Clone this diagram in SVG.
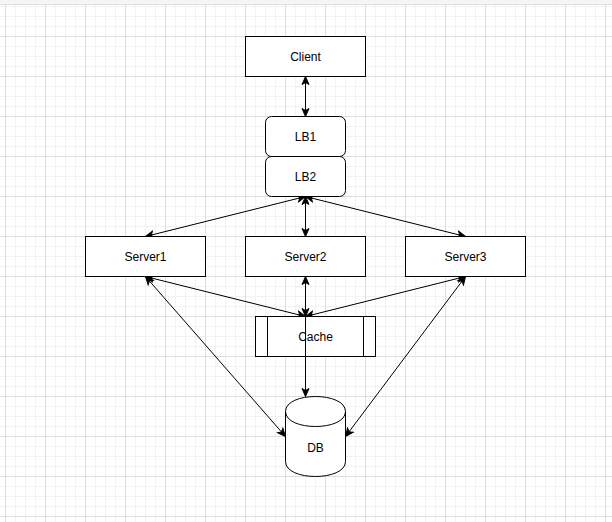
<svg xmlns="http://www.w3.org/2000/svg" width="612" height="522" viewBox="0 0 612 522">
<style>
.n{fill:#fff;stroke:#000;stroke-width:1}
.t{font-family:"Liberation Sans",Arial,Helvetica,sans-serif;font-size:12px;fill:#000;text-anchor:middle}
.e{fill:none;stroke:#000;stroke-width:1}
</style>
<defs>
<pattern id="grid" patternUnits="userSpaceOnUse" x="5" y="-4" width="40" height="40">
<rect x="0" y="0" width="40" height="40" fill="#fff"/>
<g fill="#f2f2f2">
<rect x="10" y="0" width="1" height="40"/><rect x="20" y="0" width="1" height="40"/><rect x="30" y="0" width="1" height="40"/>
<rect x="0" y="10" width="40" height="1"/><rect x="0" y="20" width="40" height="1"/><rect x="0" y="30" width="40" height="1"/>
</g>
<g fill="#dedede">
<rect x="0" y="0" width="1" height="40"/><rect x="0" y="0" width="40" height="1"/>
</g>
</pattern>
<marker id="arr" viewBox="-9 -5 10 10" markerWidth="10" markerHeight="10" refX="0" refY="0" orient="auto-start-reverse" markerUnits="userSpaceOnUse">
<path d="M-8,-3.5 L0,0 L-8,3.5 L-6,0 Z" fill="#000" stroke="#000" stroke-width="1" stroke-linejoin="miter"/>
</marker>
</defs>
<rect x="0" y="0" width="612" height="522" fill="url(#grid)"/>
<rect x="0" y="0" width="612" height="4" fill="#f5f5f5"/>
<rect x="0" y="4" width="612" height="1" fill="#dedede"/>

<g id="connectors">
<line class="e" x1="305.5" y1="76.5" x2="305.5" y2="116.5" marker-start="url(#arr)" marker-end="url(#arr)"/>
<line class="e" x1="305.5" y1="196.5" x2="145.5" y2="236.5" marker-start="url(#arr)" marker-end="url(#arr)"/>
<line class="e" x1="305.5" y1="196.5" x2="305.5" y2="236.5" marker-start="url(#arr)" marker-end="url(#arr)"/>
<line class="e" x1="305.5" y1="196.5" x2="465.5" y2="236.5" marker-start="url(#arr)" marker-end="url(#arr)"/>
<line class="e" x1="145.5" y1="276.5" x2="305.5" y2="316.5" marker-start="url(#arr)" marker-end="url(#arr)"/>
<line class="e" x1="305.5" y1="276.5" x2="305.5" y2="316.5" marker-start="url(#arr)" marker-end="url(#arr)"/>
<line class="e" x1="465.5" y1="276.5" x2="305.5" y2="316.5" marker-start="url(#arr)" marker-end="url(#arr)"/>
<line class="e" x1="145.5" y1="276.5" x2="285.5" y2="436.5" marker-start="url(#arr)" marker-end="url(#arr)"/>
<line class="e" x1="465.5" y1="276.5" x2="345.5" y2="436.5" marker-start="url(#arr)" marker-end="url(#arr)"/>
</g>

<g id="client">
<rect class="n" x="245.5" y="36.5" width="120" height="40"/>
<text class="t" x="305.5" y="60.5">Client</text>
</g>
<g id="lb1">
<rect class="n" x="265.5" y="116.5" width="80" height="40" rx="6" ry="6"/>
<text class="t" x="305.5" y="140.5">LB1</text>
</g>
<g id="lb2">
<rect class="n" x="265.5" y="156.5" width="80" height="40" rx="6" ry="6"/>
<text class="t" x="305.5" y="180.5">LB2</text>
</g>
<g id="server1">
<rect class="n" x="85.5" y="236.5" width="120" height="40"/>
<text class="t" x="145.5" y="260.5">Server1</text>
</g>
<g id="server2">
<rect class="n" x="245.5" y="236.5" width="120" height="40"/>
<text class="t" x="305.5" y="260.5">Server2</text>
</g>
<g id="server3">
<rect class="n" x="405.5" y="236.5" width="120" height="40"/>
<text class="t" x="465.5" y="260.5">Server3</text>
</g>
<g id="cache">
<rect class="n" x="255.5" y="316.5" width="120" height="40"/>
<line class="e" x1="267.5" y1="316.5" x2="267.5" y2="356.5"/>
<line class="e" x1="363.5" y1="316.5" x2="363.5" y2="356.5"/>
<text class="t" x="315.5" y="340.5">Cache</text>
</g>
<g id="db">
<path class="n" d="M285.5,411.5 C285.5,391.5 345.5,391.5 345.5,411.5 L345.5,461.5 C345.5,481.5 285.5,481.5 285.5,461.5 Z"/>
<path class="e" d="M285.5,411.5 C285.5,431.5 345.5,431.5 345.5,411.5"/>
<text class="t" x="315.5" y="452">DB</text>
</g>
<g id="connectors-over">
<line class="e" x1="305.5" y1="316.5" x2="305.5" y2="396.5" marker-end="url(#arr)"/>
</g>
</svg>
